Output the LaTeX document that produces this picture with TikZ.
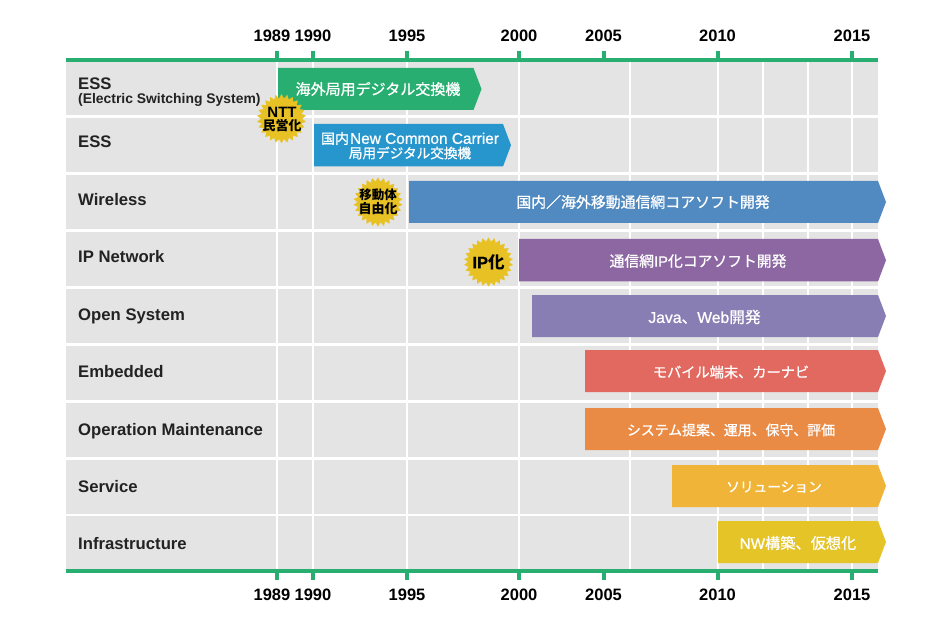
\documentclass[tikz,border=0pt]{standalone}
\usepackage{fontspec}
\setmainfont{Liberation Sans}
\newfontfamily\cjkf{Noto Sans CJK JP}
\newfontfamily\cjkm{Noto Sans CJK JP}[FakeBold=0.9]
\newfontfamily\latm{Liberation Sans}[FakeBold=0.9]
\usetikzlibrary{shapes.geometric}
\newcommand{\J}[1]{{\cjkf\bfseries #1}}
\newcommand{\M}[1]{{\cjkm #1}}
\newcommand{\La}[1]{{\latm #1}}
\newcommand{\FS}[1]{\fontsize{#1}{#1}\selectfont}
\definecolor{gridbg}{HTML}{E4E4E4}
\definecolor{axisgreen}{HTML}{27AE70}
\definecolor{gold}{HTML}{E8C224}
\definecolor{ink}{HTML}{222222}
\definecolor{cA}{HTML}{27AE70}
\definecolor{cB}{HTML}{2796CC}
\definecolor{cC}{HTML}{508AC0}
\definecolor{cD}{HTML}{8D67A1}
\definecolor{cE}{HTML}{897EB3}
\definecolor{cF}{HTML}{E2695F}
\definecolor{cG}{HTML}{EA8B45}
\definecolor{cH}{HTML}{F0B538}
\definecolor{cI}{HTML}{E5C428}
\tikzset{
  yearlabel/.style={font=\fontsize{16.5}{18}\selectfont\bfseries,text=black,inner sep=0},
  rowlabel/.style={font=\fontsize{16.7}{17}\selectfont\bfseries,text=ink,anchor=base west,inner sep=0},
  sublabel/.style={font=\fontsize{13.9}{13}\selectfont\bfseries,text=ink,anchor=base west,inner sep=0},
  bartext/.style={text=white,inner sep=0,align=center},
  burst/.style={star,star points=26,star point ratio=1.2,fill=gold,draw=gold,line width=0.2pt,minimum size=48.5pt,inner sep=0},
  bursttext/.style={font=\fontsize{13}{13.5}\selectfont\bfseries,text=black,inner sep=0,align=center},
  gridline/.style={white,line width=2.2pt},
  axisline/.style={axisgreen,line width=4pt},
  axistick/.style={axisgreen,line width=4pt},
}
% name, x1, x2, ytop, ybot, colour
\newcommand{\chartbar}[6]{%
  \path[fill=#6] (#2,#4) -- (#3,#4) -- (#3+8,{(#4+#5)/2}) -- (#3,#5) -- (#2,#5) -- cycle;}
\begin{document}
\begin{tikzpicture}[x=1pt,y=-1pt]
\useasboundingbox (0,0) rectangle (950,636);
\fill[gridbg] (66,60) rectangle (878,571);
\foreach \y in {116.5,173.5,230.5,287.5,344.5,401.5,458.5,515} \draw[gridline] (66,\y) -- (878,\y);
\foreach \x in {277,313,407,519,630,718,763,808,852} \draw[gridline] (\x,60) -- (\x,571);
\draw[axisline] (66,60) -- (878,60);
\draw[axisline] (66,571) -- (878,571);
\foreach \x in {277,313,407,519,603.5,718,852} {
  \draw[axistick] (\x,51) -- (\x,60);
  \draw[axistick] (\x,571) -- (\x,580);
}
\foreach \n/\x/\t in {a/272/1989,b/313/1990,c/407/1995,d/519/2000,e/603.5/2005,f/717.5/2010,g/852/2015} {
  \node[yearlabel] (top\n) at (\x,36) {\t};
  \node[yearlabel] (bot\n) at (\x,595) {\t};
}
\node[rowlabel] (r1) at (78,90) {ESS};
\node[sublabel] (r1b) at (78,104) {(Electric Switching System)};
\node[rowlabel] (r2) at (78,148) {ESS};
\node[rowlabel] (r3) at (78,206) {Wireless};
\node[rowlabel] (r4) at (78,263) {IP Network};
\node[rowlabel] (r5) at (78,320) {Open System};
\node[rowlabel] (r6) at (78,377) {Embedded};
\node[rowlabel] (r7) at (78,435) {Operation Maintenance};
\node[rowlabel] (r8) at (78,492) {Service};
\node[rowlabel] (r9) at (78,549) {Infrastructure};
\chartbar{b1}{278}{473.5}{68}{110}{cA}
\chartbar{b2}{314}{503}{124}{166.5}{cB}
\chartbar{b3}{409}{878}{181}{223}{cC}
\chartbar{b4}{519}{878}{239}{281.5}{cD}
\chartbar{b5}{532}{878}{295}{337}{cE}
\chartbar{b6}{585}{878}{350}{392}{cF}
\chartbar{b7}{585}{878}{408}{450}{cG}
\chartbar{b8}{672}{878}{465}{507}{cH}
\chartbar{b9}{718}{878}{521}{563}{cI}
\node[bartext] (t1) at (378,89) {\FS{15}\M{海外局用デジタル交換機}};
\node[bartext] (t2a) at (410,138.5) {\FS{14}\M{国内}\hspace{1pt}\FS{15.4}\La{New Common Carrier}};
\node[bartext] (t2b) at (410,153) {\FS{13.6}\M{局用デジタル交換機}};
\node[bartext] (t3) at (643,202) {\FS{14.9}\M{国内／海外移動通信網コアソフト開発}};
\node[bartext] (t4) at (698,261) {\FS{14.8}\M{通信網}\La{IP}\M{化コアソフト開発}};
\node[bartext] (t5) at (704.5,317) {\FS{15.7}\La{Java}\M{、}\La{Web}\M{開発}};
\node[bartext] (t6) at (731,372) {\FS{14.2}\M{モバイル端末、カーナビ}};
\node[bartext] (t7) at (731,430) {\FS{13.9}\M{システム提案、運用、保守、評価}};
\node[bartext] (t8) at (774,487) {\FS{13.7}\M{ソリューション}};
\node[bartext] (t9) at (798,543) {\FS{15.2}\La{NW}\M{構築、仮想化}};
\node[burst] (s1) at (281.5,118.7) {};
\node[bursttext] (s1ta) at (282,112) {\FS{15}NTT};
\node[bursttext] (s1tb) at (282,125.5) {\FS{13}\J{民営化}};
\node[burst] (s2) at (378,202) {};
\node[bursttext] (s2t) at (s2) {\FS{12.5}\J{移動体}\\[0.5pt]\J{自由化}};
\node[burst] (s3) at (488.5,262) {};
\node[bursttext] (s3t) at (s3) {\FS{16.5}\La{IP}\J{化}};
\end{tikzpicture}
\end{document}
